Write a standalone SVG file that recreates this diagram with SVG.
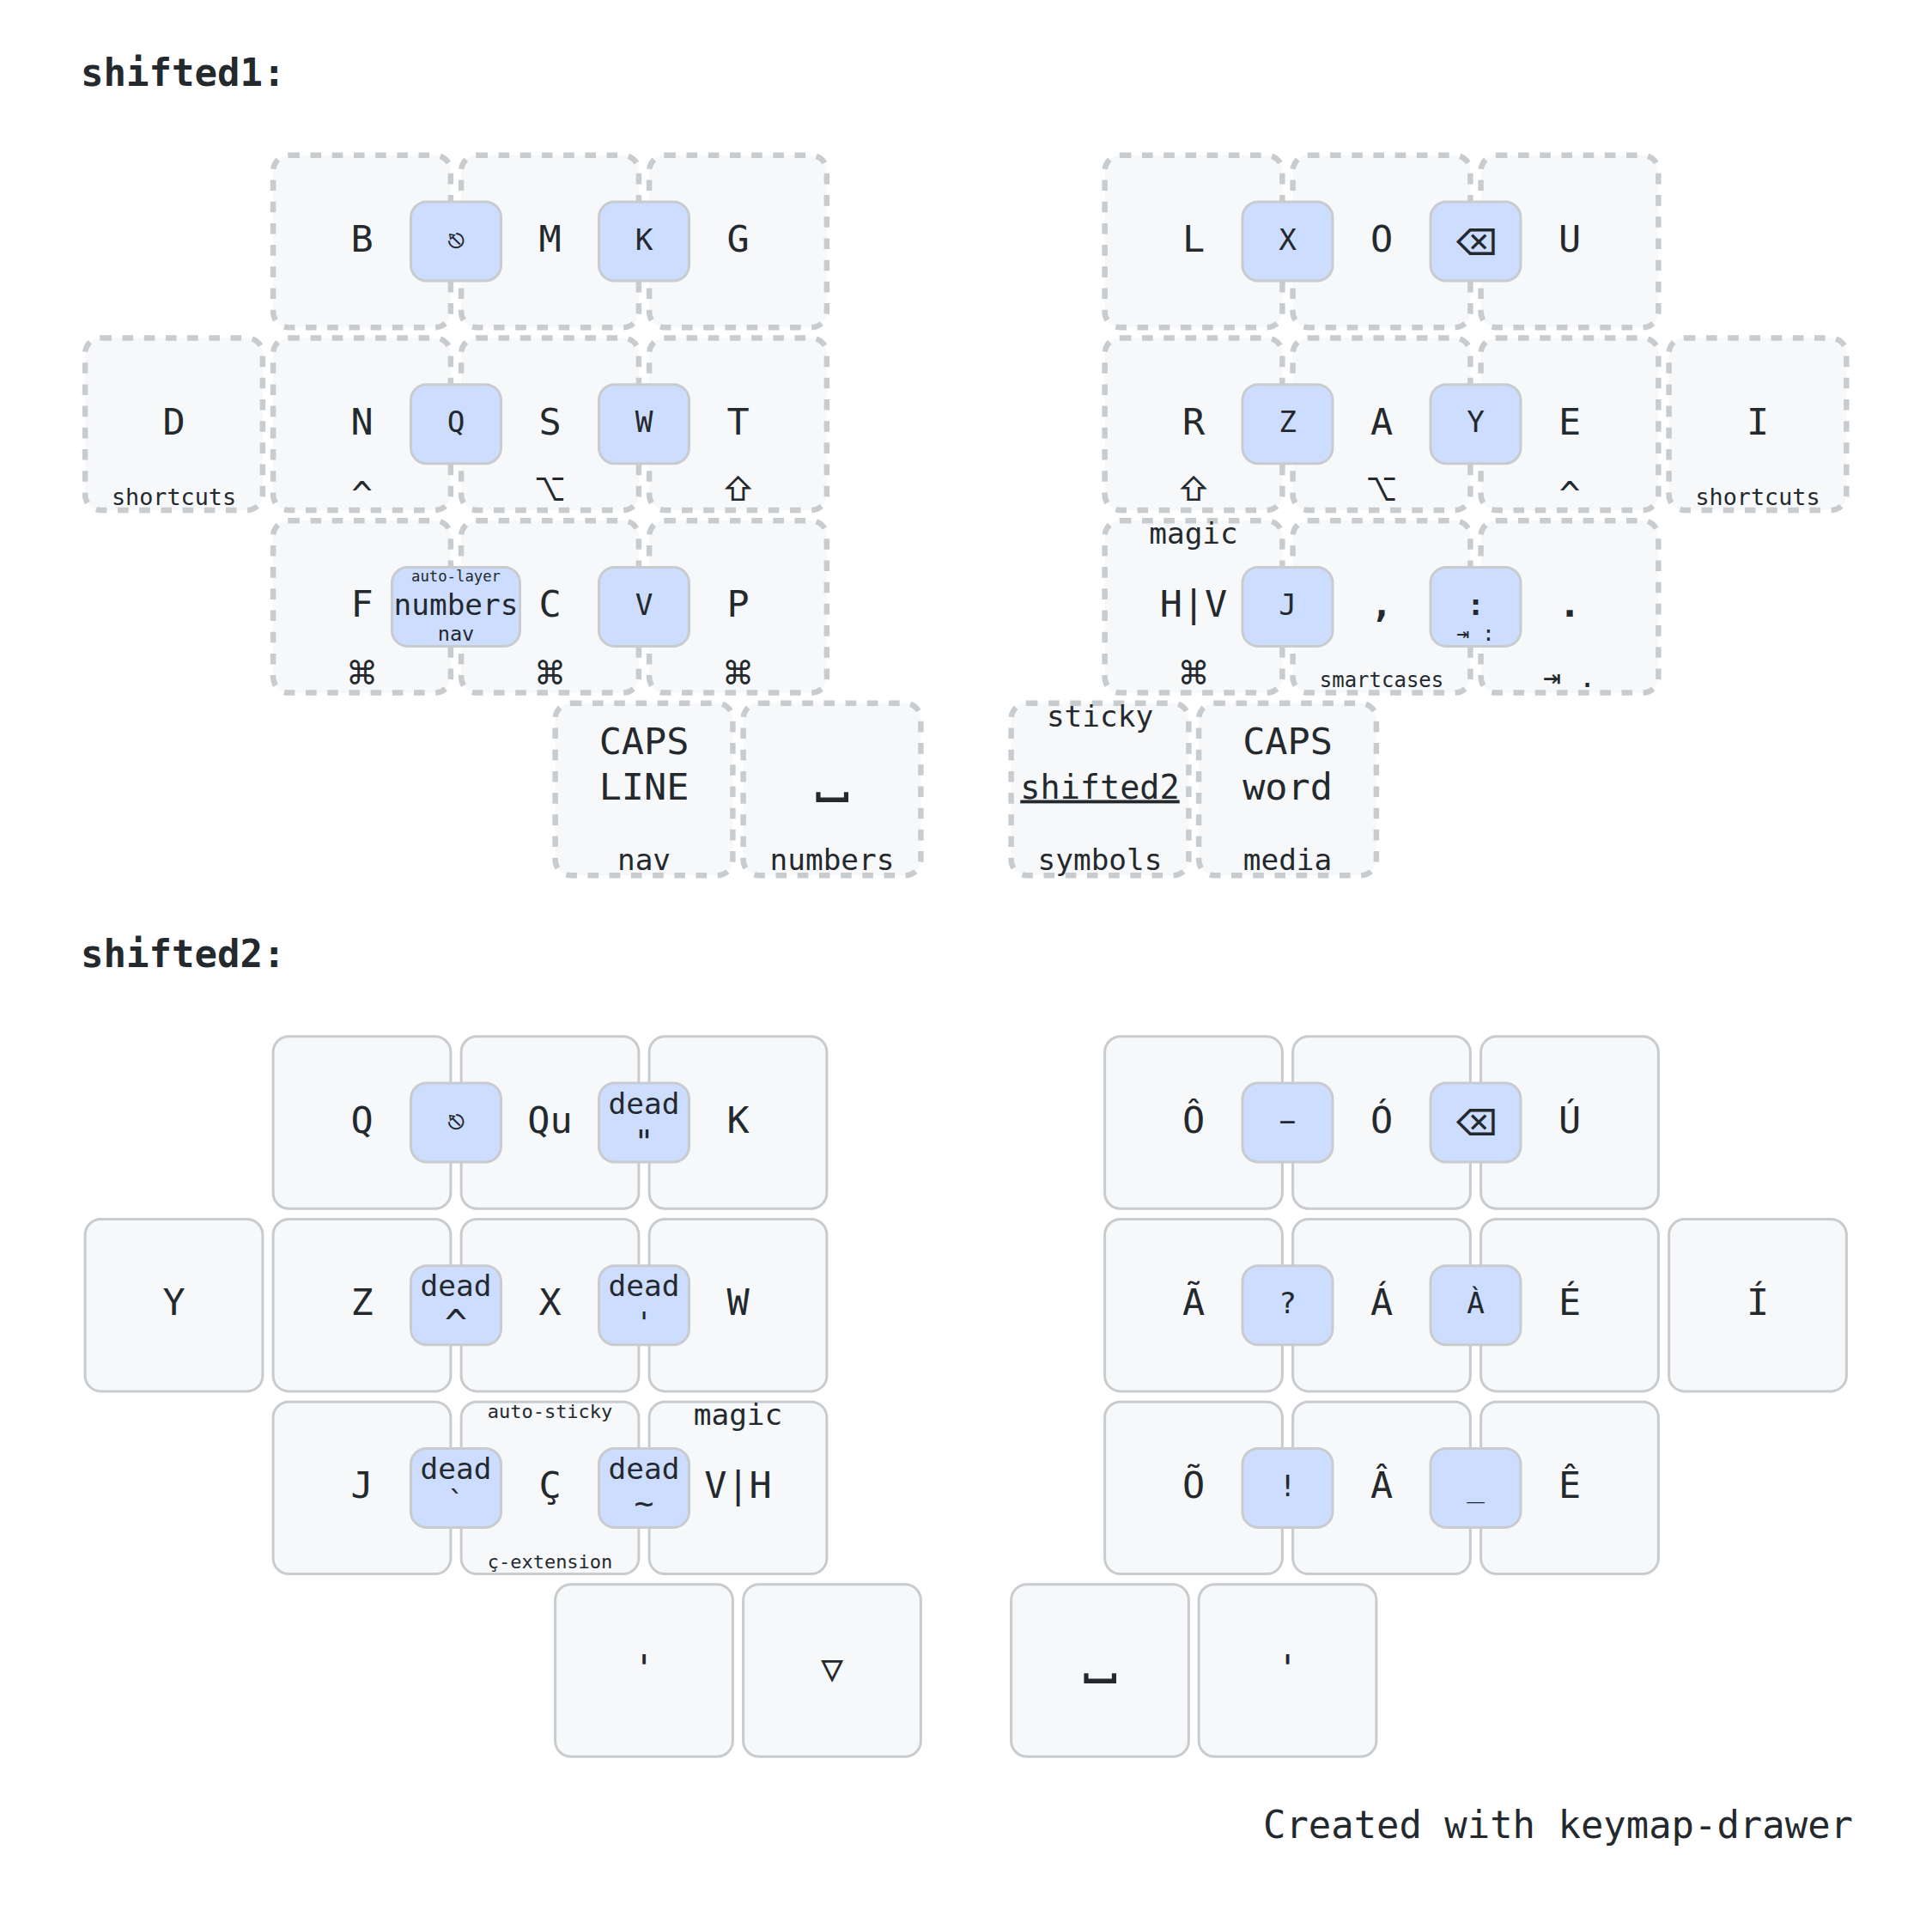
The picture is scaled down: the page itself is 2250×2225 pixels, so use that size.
<svg xmlns="http://www.w3.org/2000/svg" width="2250" height="2225" viewBox="0 0 2250 2225">
<style>
text{font-family:"DejaVu Sans Mono",monospace;fill:#24292e;text-anchor:middle;dominant-baseline:middle;font-size:43.5px}
rect{fill:#f6f8fa;stroke:#c9cccf;stroke-width:3px}
.k{x:-103.4px;y:-100.2px;width:206.8px;height:200.4px;rx:18.25px;ry:18.25px}
.g{stroke-width:6.5px;stroke-dasharray:12.6 12.6}
.c{x:-52.5px;y:-46px;width:105px;height:92px;rx:18.25px;ry:18.25px;fill:#ccddff}
.w{x:-74.5px;width:149px}
text.t{font-size:34.4px}
.h{dominant-baseline:auto;font-size:34.4px}
.s{dominant-baseline:hanging;font-size:34.4px}
text.m{font-family:Inter,sans-serif;dominant-baseline:auto;font-size:37px}
text.bs{font-family:Inter,sans-serif;font-size:43px}
text.sp{font-family:"Noto Sans Math",Inter,sans-serif;font-size:54px;font-weight:bold}
text.b{font-weight:bold}
text.title{font-weight:bold;text-anchor:start;dominant-baseline:auto;font-size:44px}
text.foot{text-anchor:end;dominant-baseline:auto;font-size:43.9px}
</style>
<text class="title" x="94" y="100">shifted1:</text>
<g id="shifted1">
<g id="k1-b" transform="translate(421.5 281)"><rect class="k g"/><text>B</text></g>
<g id="k1-m" transform="translate(640.5 281)"><rect class="k g"/><text>M</text></g>
<g id="k1-g" transform="translate(859.5 281)"><rect class="k g"/><text>G</text></g>
<g id="k1-l" transform="translate(1390 281)"><rect class="k g"/><text>L</text></g>
<g id="k1-o" transform="translate(1609 281)"><rect class="k g"/><text>O</text></g>
<g id="k1-u" transform="translate(1828 281)"><rect class="k g"/><text>U</text></g>
<g id="k1-d" transform="translate(202.5 493.7)"><rect class="k g"/><text y="1">D</text><text class="h" y="94" style="font-size:26.8px">shortcuts</text></g>
<g id="k1-n" transform="translate(421.5 493.7)"><rect class="k g"/><text y="1">N</text><text class="h" y="96" style="font-size:41px">^</text></g>
<g id="k1-s" transform="translate(640.5 493.7)"><rect class="k g"/><text y="1">S</text><text class="m" y="89">⌥</text></g>
<g id="k1-t" transform="translate(859.5 493.7)"><rect class="k g"/><text y="1">T</text><text class="m" y="89">⇧</text></g>
<g id="k1-r" transform="translate(1390 493.7)"><rect class="k g"/><text y="1">R</text><text class="m" y="89">⇧</text></g>
<g id="k1-a" transform="translate(1609 493.7)"><rect class="k g"/><text y="1">A</text><text class="m" y="89">⌥</text></g>
<g id="k1-e" transform="translate(1828 493.7)"><rect class="k g"/><text y="1">E</text><text class="h" y="96" style="font-size:41px">^</text></g>
<g id="k1-i" transform="translate(2047 493.7)"><rect class="k g"/><text y="1">I</text><text class="h" y="94" style="font-size:26.8px">shortcuts</text></g>
<g id="k1-f" transform="translate(421.5 706.4)"><rect class="k g"/><text>F</text><text class="m" y="90">⌘</text></g>
<g id="k1-c" transform="translate(640.5 706.4)"><rect class="k g"/><text>C</text><text class="m" y="90">⌘</text></g>
<g id="k1-p" transform="translate(859.5 706.4)"><rect class="k g"/><text>P</text><text class="m" y="90">⌘</text></g>
<g id="k1-hv" transform="translate(1390 706.4)"><rect class="k g"/><text>H|V</text><text class="m" y="90">⌘</text><text class="s" y="-99">magic</text></g>
<g id="k1-comma" transform="translate(1609 706.4)"><rect class="k g"/><text class="b">,</text><text class="h" y="94" style="font-size:24px">smartcases</text></g>
<g id="k1-dot" transform="translate(1828 706.4)"><rect class="k g"/><text class="b">.</text><text class="h" y="94">⇥ .</text></g>
<g id="k1-capsline" transform="translate(750 919)"><rect class="k g"/><text y="-53">CAPS</text><text>LINE</text><text class="h" y="94">nav</text></g>
<g id="k1-space" transform="translate(969 919)"><rect class="k g"/><text class="sp" y="-13">⎵</text><text class="h" y="94">numbers</text></g>
<g id="k1-shifted2" transform="translate(1281 919)"><rect class="k g"/><text style="font-size:38.5px;text-decoration:underline">shifted2</text><text class="h" y="94">symbols</text><text class="s" y="-99">sticky</text></g>
<g id="k1-capsword" transform="translate(1499.5 919)"><rect class="k g"/><text y="-53">CAPS</text><text>word</text><text class="h" y="94">media</text></g>
<g id="c1-esc" transform="translate(531 281)"><rect class="c"/><text class="t">⎋</text></g>
<g id="c1-k" transform="translate(750 281)"><rect class="c"/><text class="t">K</text></g>
<g id="c1-x" transform="translate(1499.5 281)"><rect class="c"/><text class="t">X</text></g>
<g id="c1-bs" transform="translate(1718.5 281)"><rect class="c"/><text class="bs" y="4">⌫</text></g>
<g id="c1-q" transform="translate(531 493.7)"><rect class="c"/><text class="t">Q</text></g>
<g id="c1-w" transform="translate(750 493.7)"><rect class="c"/><text class="t">W</text></g>
<g id="c1-z" transform="translate(1499.5 493.7)"><rect class="c"/><text class="t">Z</text></g>
<g id="c1-y" transform="translate(1718.5 493.7)"><rect class="c"/><text class="t">Y</text></g>
<g id="c1-numbers" transform="translate(531 706.4)"><rect class="c w"/><text class="t">numbers</text><text class="h" y="40" style="font-size:23.6px">nav</text><text class="s" y="-42" style="font-size:17.3px">auto-layer</text></g>
<g id="c1-v" transform="translate(750 706.4)"><rect class="c"/><text class="t">V</text></g>
<g id="c1-j" transform="translate(1499.5 706.4)"><rect class="c"/><text class="t">J</text></g>
<g id="c1-colon" transform="translate(1718.5 706.4)"><rect class="c"/><text class="t b">:</text><text class="h" y="40" style="font-size:24.7px">⇥ :</text></g>
</g>
<text class="title" x="94" y="1126">shifted2:</text>
<g id="shifted2">
<g id="k2-q" transform="translate(421.5 1307)"><rect class="k"/><text>Q</text></g>
<g id="k2-qu" transform="translate(640.5 1307)"><rect class="k"/><text>Qu</text></g>
<g id="k2-k" transform="translate(859.5 1307)"><rect class="k"/><text>K</text></g>
<g id="k2-ocirc" transform="translate(1390 1307)"><rect class="k"/><text>Ô</text></g>
<g id="k2-oacute" transform="translate(1609 1307)"><rect class="k"/><text>Ó</text></g>
<g id="k2-uacute" transform="translate(1828 1307)"><rect class="k"/><text>Ú</text></g>
<g id="k2-y" transform="translate(202.5 1519.7)"><rect class="k"/><text>Y</text></g>
<g id="k2-z" transform="translate(421.5 1519.7)"><rect class="k"/><text>Z</text></g>
<g id="k2-x" transform="translate(640.5 1519.7)"><rect class="k"/><text>X</text></g>
<g id="k2-w" transform="translate(859.5 1519.7)"><rect class="k"/><text>W</text></g>
<g id="k2-atilde" transform="translate(1390 1519.7)"><rect class="k"/><text>Ã</text></g>
<g id="k2-aacute" transform="translate(1609 1519.7)"><rect class="k"/><text>Á</text></g>
<g id="k2-eacute" transform="translate(1828 1519.7)"><rect class="k"/><text>É</text></g>
<g id="k2-iacute" transform="translate(2047 1519.7)"><rect class="k"/><text>Í</text></g>
<g id="k2-j" transform="translate(421.5 1732.4)"><rect class="k"/><text>J</text></g>
<g id="k2-ccedil" transform="translate(640.5 1732.4)"><rect class="k"/><text>Ç</text><text class="h" y="94" style="font-size:22px">ç-extension</text><text class="s" y="-97" style="font-size:22px">auto-sticky</text></g>
<g id="k2-vh" transform="translate(859.5 1732.4)"><rect class="k"/><text>V|H</text><text class="s" y="-99">magic</text></g>
<g id="k2-otilde" transform="translate(1390 1732.4)"><rect class="k"/><text>Õ</text></g>
<g id="k2-acirc" transform="translate(1609 1732.4)"><rect class="k"/><text>Â</text></g>
<g id="k2-ecirc" transform="translate(1828 1732.4)"><rect class="k"/><text>Ê</text></g>
<g id="k2-apos1" transform="translate(750 1945)"><rect class="k"/><text>'</text></g>
<g id="k2-tri" transform="translate(969 1945)"><rect class="k"/><text>▽</text></g>
<g id="k2-space" transform="translate(1281 1945)"><rect class="k"/><text class="sp" y="-13">⎵</text></g>
<g id="k2-apos2" transform="translate(1499.5 1945)"><rect class="k"/><text>'</text></g>
<g id="c2-esc" transform="translate(531 1307)"><rect class="c"/><text class="t">⎋</text></g>
<g id="c2-dq" transform="translate(750 1307)"><rect class="c"/><text class="t" y="-20">dead</text><text class="t" y="24" style="font-size:38px">"</text></g>
<g id="c2-minus" transform="translate(1499.5 1307)"><rect class="c"/><text class="t" transform="scale(1.9 1)">-</text></g>
<g id="c2-bs" transform="translate(1718.5 1307)"><rect class="c"/><text class="bs" y="3">⌫</text></g>
<g id="c2-caret" transform="translate(531 1519.7)"><rect class="c"/><text class="t" y="-20">dead</text><text class="t" y="24" style="font-size:44px">^</text></g>
<g id="c2-sq" transform="translate(750 1519.7)"><rect class="c"/><text class="t" y="-20">dead</text><text class="t" y="23">'</text></g>
<g id="c2-qm" transform="translate(1499.5 1519.7)"><rect class="c"/><text class="t">?</text></g>
<g id="c2-agrave" transform="translate(1718.5 1519.7)"><rect class="c"/><text class="t">À</text></g>
<g id="c2-grave" transform="translate(531 1732.4)"><rect class="c"/><text class="t" y="-20">dead</text><text class="t" y="18">`</text></g>
<g id="c2-tilde" transform="translate(750 1732.4)"><rect class="c"/><text class="t" y="-20">dead</text><text class="t" y="20" style="font-size:38px">~</text></g>
<g id="c2-bang" transform="translate(1499.5 1732.4)"><rect class="c"/><text class="t">!</text></g>
<g id="c2-under" transform="translate(1718.5 1732.4)"><rect class="c"/><text class="t">_</text></g>
</g>
<text class="foot" x="2158" y="2140">Created with keymap-drawer</text>
</svg>
